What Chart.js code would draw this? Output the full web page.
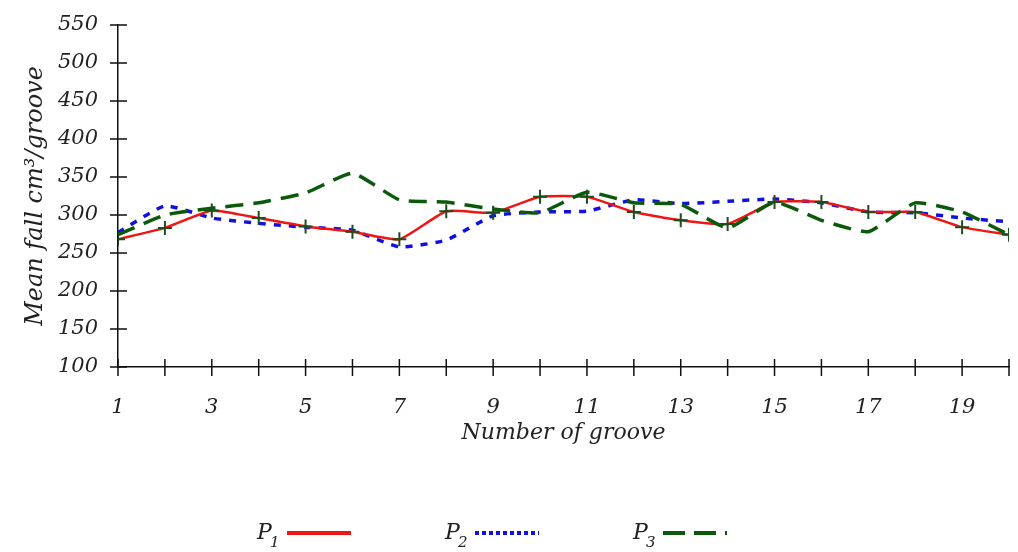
<!DOCTYPE html>
<html>
<head>
<meta charset="utf-8">
<script src="https://cdn.jsdelivr.net/npm/chart.js@4.4.0/dist/chart.umd.min.js"></script>
<style>
  html, body { margin: 0; padding: 0; background: #fff; }
  #wrap { width: 1018px; height: 552px; }
</style>
</head>
<body>
<div id="wrap"><canvas id="chart"></canvas></div>
<script>
// values
const grooves = [1, 2, 3, 4, 5, 6, 7, 8, 9, 10, 11, 12, 13, 14, 15, 16, 17, 18, 19, 20];
const p1 = [268, 283, 306, 296, 285, 278, 268, 305, 303, 324, 324, 304, 293, 288, 317, 317, 304, 304, 284, 274];
const p2 = [277, 312, 296, 289, 284, 280, 258, 267, 299, 304, 305, 320, 315, 318, 321, 316, 304, 303, 296, 291];
const p3 = [274, 300, 309, 316, 329, 355, 320, 317, 308, 303, 330, 316, 314, 283, 317, 293, 278, 316, 304, 274];
const yTicks = [100, 150, 200, 250, 300, 350, 400, 450, 500, 550];
const seriesNames = ['1', '2', '3'];

const FONT = 'DejaVu Serif';

function pts(vals) {
  return vals.map((v, i) => ({ x: grooves[i], y: v }));
}

// tick marks crossing both axes
const crossTicks = {
  id: 'crossTicks',
  afterDatasetsDraw(chart) {
    const { ctx, scales: { x, y } } = chart;
    ctx.save();
    ctx.strokeStyle = '#111';
    ctx.lineWidth = 1.5;
    ctx.beginPath();
    yTicks.forEach(v => {
      const py = y.getPixelForValue(v);
      ctx.moveTo(x.left - 8, py);
      ctx.lineTo(x.left + 9, py);
    });
    grooves.forEach(g => {
      const px = x.getPixelForValue(g);
      ctx.moveTo(px, y.bottom - 8);
      ctx.lineTo(px, y.bottom + 9);
    });
    ctx.stroke();
    ctx.restore();
  }
};

// legend: label first, then a sample of the line
const bottomLegend = {
  id: 'bottomLegend',
  afterDraw(chart) {
    const ctx = chart.ctx;
    const sets = chart.data.datasets;
    const startX = 257, gap = 188, ly = 533;
    ctx.save();
    sets.forEach((ds, i) => {
      const x0 = startX + i * gap;
      ctx.fillStyle = '#222';
      ctx.textBaseline = 'alphabetic';
      ctx.font = 'italic 22px "' + FONT + '"';
      ctx.fillText('P', x0, ly + 6);
      ctx.font = 'italic 15px "' + FONT + '"';
      ctx.fillText(seriesNames[i], x0 + 13, ly + 14);
      ctx.strokeStyle = ds.borderColor;
      ctx.lineWidth = 4;
      ctx.setLineDash(ds.legendDash);
      ctx.beginPath();
      ctx.moveTo(x0 + 30, ly);
      ctx.lineTo(x0 + 94, ly);
      ctx.stroke();
    });
    ctx.restore();
  }
};

new Chart(document.getElementById('chart'), {
  type: 'line',
  data: {
    datasets: [
      {
        label: 'P1',
        data: pts(p1),
        borderColor: '#f01515',
        borderWidth: 2.5,
        tension: 0.15,
        pointStyle: 'cross',
        pointRadius: 7,
        pointBorderWidth: 2,
        pointBorderColor: '#1d4d1d',
        legendDash: [],
        order: 1,
      },
      {
        label: 'P2',
        data: pts(p2),
        borderColor: '#1010e0',
        borderWidth: 3.5,
        borderDash: [7, 8],
        tension: 0.15,
        pointRadius: 0,
        legendDash: [4, 3],
        order: 2,
      },
      {
        label: 'P3',
        data: pts(p3),
        borderColor: '#0b5a0b',
        borderWidth: 3.5,
        borderDash: [18, 10],
        tension: 0.15,
        pointRadius: 0,
        legendDash: [22, 9],
        order: 0,
      },
    ],
  },
  options: {
    responsive: true,
    maintainAspectRatio: false,
    animation: false,
    layout: { padding: { top: 25, right: 6, bottom: 100, left: 0 } },
    plugins: {
      legend: { display: false },
      tooltip: { enabled: false },
    },
    scales: {
      x: {
        type: 'linear',
        min: 1,
        max: 20,
        afterFit(scale) {
          scale.height = 85;
          scale.paddingLeft = 0;
          scale.paddingRight = 0;
        },
        afterBuildTicks(scale) { scale.ticks = grooves.map(g => ({ value: g })); },
        grid: { display: false },
        border: { display: true, color: '#111', width: 1.5 },
        ticks: {
          autoSkip: false,
          maxRotation: 0,
          padding: 20,
          color: '#222',
          font: { family: FONT, style: 'italic', size: 21 },
          callback: v => (v % 2 === 1 ? String(v) : ''),
        },
        title: {
          display: true,
          text: 'Number of groove',
          color: '#222',
          font: { family: FONT, style: 'italic', size: 22 },
          padding: { top: 0, bottom: 6 },
        },
      },
      y: {
        min: 100,
        max: 550,
        afterFit(scale) { scale.width = 118; },
        afterBuildTicks(scale) { scale.ticks = yTicks.map(v => ({ value: v })); },
        grid: { display: false },
        border: { display: true, color: '#111', width: 1.5 },
        ticks: {
          padding: 12,
          color: '#222',
          font: { family: FONT, style: 'italic', size: 21 },
        },
        title: {
          display: true,
          text: 'Mean fall cm\u00b3/groove',
          color: '#222',
          font: { family: FONT, style: 'italic', size: 24 },
          padding: { top: 21, bottom: 0 },
        },
      },
    },
  },
  plugins: [crossTicks, bottomLegend],
});
</script>
</body>
</html>
